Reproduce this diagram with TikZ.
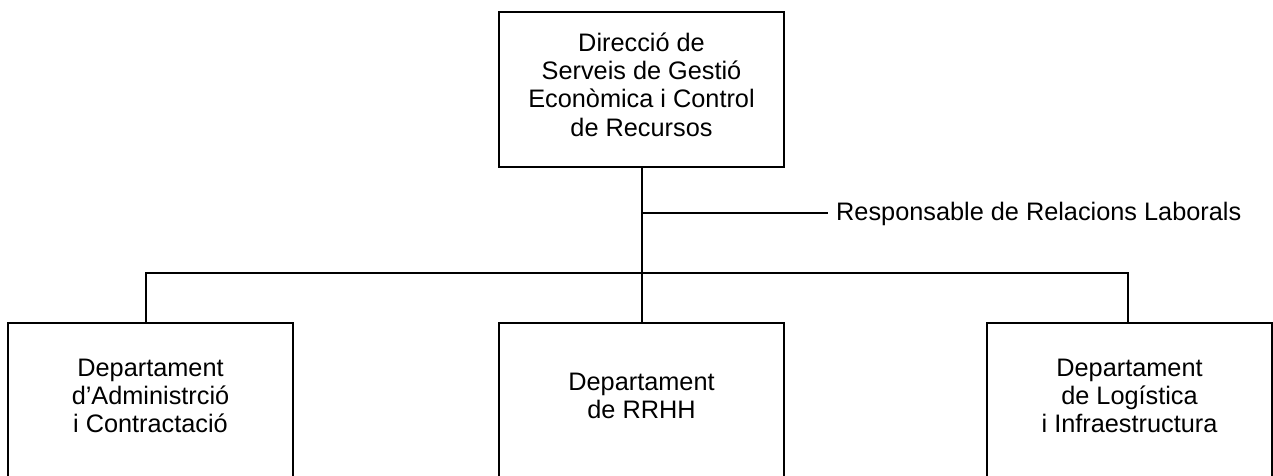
\documentclass[tikz,border=0pt]{standalone}
\usepackage{fontspec}
\setmainfont{Liberation Sans}
\begin{document}
\begin{tikzpicture}[x=1pt,y=-1pt,
  box/.style={draw=black, line width=2pt, rectangle, minimum width=285pt, inner sep=0pt},
  txt/.style={align=center, font=\fontsize{25.3}{28.4}\selectfont, inner sep=0pt},
  conn/.style={draw=black, line width=2pt}]
\clip (0,0) rectangle (1273,475);
\fill[white] (0,0) rectangle (1273,475);
% top box
\node[box, minimum height=155pt] (top) at (641.5,89.5) {};
\node[txt] (toptxt) at (641.5,84.5) {Direcció de\\Serveis de Gestió\\Econòmica i Control\\de Recursos};
% bottom boxes (extend below the visible area)
\node[box, minimum height=160pt, anchor=north] (left) at (150.5,322) {};
\node[box, minimum height=160pt, anchor=north] (mid) at (641.5,322) {};
\node[box, minimum height=160pt, anchor=north] (right) at (1129.5,322) {};
\node[txt] (lefttxt) at (150.5,396) {Departament\\d’Administrció\\i Contractació};
\node[txt] (midtxt) at (641.5,396) {Departament\\de RRHH};
\node[txt] (righttxt) at (1129.5,396) {Departament\\de Logística\\i Infraestructura};
% connectors
\coordinate (bus) at (641.5,273);
\coordinate (branch) at (641.5,213);
\coordinate (busL) at (146,273);
\coordinate (busR) at (1128,273);
\coordinate (relend) at (828,213);
\node[txt, anchor=base west] (rel) at (836,220.5) {Responsable de Relacions Laborals};
\draw[conn] (top.south) -- (mid.north);
\draw[conn] (branch) -- (relend);
\draw[conn, line cap=rect] (busL) -- (busR);
\draw[conn] (busL) -- (busL |- left.north);
\draw[conn] (busR) -- (busR |- right.north);
\end{tikzpicture}
\end{document}
